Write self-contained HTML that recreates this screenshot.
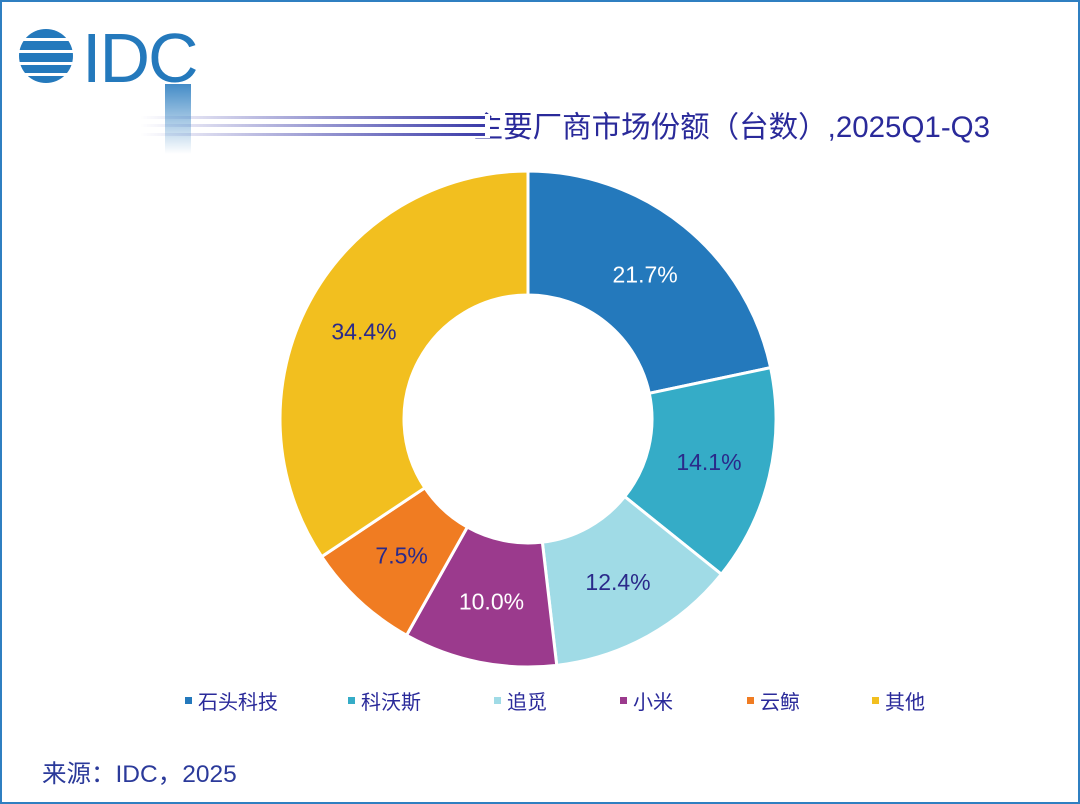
<!DOCTYPE html>
<html><head><meta charset="utf-8"><style>
body{margin:0;width:1080px;height:804px;overflow:hidden;background:#fff;font-family:"Liberation Sans","Noto Sans CJK SC",sans-serif}
#frame{position:absolute;left:0;top:0;width:1076px;height:800px;border:2px solid #2f7fc1}
</style></head><body>
<div id="frame"></div>
<svg width="1080" height="804" style="position:absolute;left:0;top:0">
<defs>
<linearGradient id="lg" x1="0" x2="1"><stop offset="0" stop-color="#3a3aa8" stop-opacity="0"/><stop offset="1" stop-color="#3a3aa8" stop-opacity="1"/></linearGradient>
<linearGradient id="vg" x1="0" y1="0" x2="0" y2="1"><stop offset="0" stop-color="#2f7fc1" stop-opacity="0.9"/><stop offset="1" stop-color="#2f7fc1" stop-opacity="0"/></linearGradient>
</defs>
<text x="990" y="137" text-anchor="end" font-size="29.5" fill="#2a2a9a" font-family="Liberation Sans,Noto Sans CJK SC,sans-serif">主要厂商市场份额（台数）,2025Q1-Q3</text>
<g>
<rect x="140" y="114" width="350" height="24" fill="#fff"/>
<rect x="140" y="116" width="345" height="3" fill="url(#lg)"/><rect x="140" y="124" width="345" height="3" fill="url(#lg)"/><rect x="140" y="133" width="345" height="3" fill="url(#lg)"/>
</g>
<g>
<circle cx="46" cy="56" r="27" fill="#2479bc"/>
<rect x="16" y="38" width="62" height="3" fill="#fff"/><rect x="16" y="50" width="62" height="3" fill="#fff"/><rect x="16" y="62" width="62" height="3" fill="#fff"/><rect x="16" y="73" width="62" height="3" fill="#fff"/>
<text x="82" y="82" font-size="70" fill="#2479bc" font-family="Liberation Sans,sans-serif" letter-spacing="-2">IDC</text>
<rect x="165" y="84" width="26" height="70" fill="url(#vg)"/>
</g>
<g id="donut"></g>
<g id="legend"></g>
<text x="42" y="782" font-size="24.5" fill="#2b3a9a">来源：IDC，2025</text>
</svg>
<script>
const categories=["石头科技","科沃斯","追觅","小米","云鲸","其他"];
const values=[21.7,14.1,12.4,10.0,7.5,34.4];
const colors=["#2479bc","#35acc7","#a0dbe6","#9b3a8d","#f07c22","#f2bf1f"];
const labelColors=["#ffffff","#2a2a8a","#2a2a8a","#ffffff","#2a2a8a","#2a2a8a"];
const legendX=[185,348,494,620,747,872];
const NS="http://www.w3.org/2000/svg";
const cx=528,cy=419,R=248,r=124;
const total=values.reduce((a,b)=>a+b,0);
const g=document.getElementById('donut');
function pt(rad,a){return [cx+rad*Math.sin(a),cy-rad*Math.cos(a)];}
let acc=0;
values.forEach((v,i)=>{
 const a0=acc/total*2*Math.PI;acc+=v;const a1=acc/total*2*Math.PI;
 const lg=(a1-a0)>Math.PI?1:0;
 const [x0,y0]=pt(R,a0),[x1,y1]=pt(R,a1),[x2,y2]=pt(r,a1),[x3,y3]=pt(r,a0);
 const p=document.createElementNS(NS,'path');
 p.setAttribute('d',`M${x0},${y0}A${R},${R} 0 ${lg} 1 ${x1},${y1}L${x2},${y2}A${r},${r} 0 ${lg} 0 ${x3},${y3}Z`);
 p.setAttribute('fill',colors[i]);p.setAttribute('stroke','#fff');p.setAttribute('stroke-width','3');
 
 
 g.appendChild(p);
 const am=(a0+a1)/2;const [lx,ly]=pt(186,am);
 const t=document.createElementNS(NS,'text');
 t.setAttribute('x',lx);t.setAttribute('y',ly+8);t.setAttribute('text-anchor','middle');
 t.setAttribute('font-size','23');t.setAttribute('fill',labelColors[i]);
 t.textContent=values[i].toFixed(1)+'%';
 
 
 g.appendChild(t);
});
const lgd=document.getElementById('legend');
categories.forEach((c,i)=>{
 const e=document.createElementNS(NS,'g');
 
 
 const s=document.createElementNS(NS,'rect');
 s.setAttribute('x',legendX[i]);s.setAttribute('y',697);s.setAttribute('width',7);s.setAttribute('height',7);s.setAttribute('fill',colors[i]);
 const t=document.createElementNS(NS,'text');
 t.setAttribute('x',legendX[i]+13);t.setAttribute('y',709);t.setAttribute('font-size','20');t.setAttribute('fill','#2a2a9a');
 t.textContent=c;
 e.appendChild(s);e.appendChild(t);lgd.appendChild(e);
});
</script>
</body></html>
